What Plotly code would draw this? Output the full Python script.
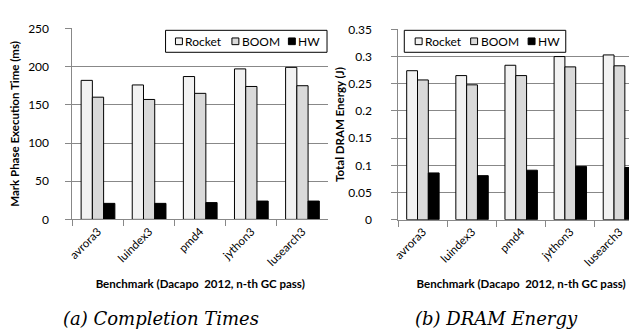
import plotly.graph_objects as go

benchmarks = ["avrora3", "luindex3", "pmd4", "jython3", "lusearch3"]
series_names = ["Rocket", "BOOM", "HW"]

time_rocket = [182, 176, 187, 197, 199]
time_boom = [160, 157, 165, 174, 175]
time_hw = [21, 21, 22, 24, 24]

energy_rocket = [0.274, 0.265, 0.284, 0.300, 0.303]
energy_boom = [0.257, 0.248, 0.265, 0.281, 0.283]
energy_hw = [0.086, 0.081, 0.091, 0.098, 0.096]

fills = ["#f2f2f2", "#d9d9d9", "#000000"]

W, H = 637, 333
FONT = "Lato, Open Sans, sans-serif"

fig = go.Figure()

for i, (name, vals) in enumerate(zip(series_names, [time_rocket, time_boom, time_hw])):
    fig.add_trace(go.Bar(x=benchmarks, y=vals, name=name, xaxis="x", yaxis="y",
                         marker=dict(color=fills[i], line=dict(color="black", width=1)),
                         showlegend=False))
for i, (name, vals) in enumerate(zip(series_names, [energy_rocket, energy_boom, energy_hw])):
    fig.add_trace(go.Bar(x=benchmarks, y=vals, name=name, xaxis="x2", yaxis="y2",
                         marker=dict(color=fills[i], line=dict(color="black", width=1)),
                         showlegend=False))

def px_x(p):
    return p / W

def px_y(p):
    return (H - p) / H

grid = "#888888"
axis_common = dict(showline=True, linecolor=grid, linewidth=1, ticks="outside",
                   tickcolor=grid, ticklen=6, tickfont=dict(family=FONT, size=12, color="black"))

xcommon = dict(axis_common, tickson="boundaries", tickangle=-45, showgrid=False,
               tickfont=dict(family=FONT, size=11.5, color="black"),
               title=dict(text="<b>Benchmark (Dacapo  2012, n-th GC pass)</b>",
                          font=dict(family=FONT, size=11.5, color="black"), standoff=12))

# compact Excel-style legends
shapes = []
annotations = []

def add_legend(box, items):
    x0, y0, x1, y1 = box
    shapes.append(dict(type="rect", xref="paper", yref="paper",
                       x0=px_x(x0), x1=px_x(x1), y0=px_y(y1), y1=px_y(y0),
                       line=dict(color="black", width=1), fillcolor="white", layer="above"))
    yc = (y0 + y1) / 2
    for (sx, tx, label, color) in items:
        shapes.append(dict(type="rect", xref="paper", yref="paper",
                           x0=px_x(sx), x1=px_x(sx + 7), y0=px_y(yc + 3.5), y1=px_y(yc - 3.5),
                           line=dict(color="black", width=1), fillcolor=color, layer="above"))
        annotations.append(dict(text=label, x=px_x(tx), y=px_y(yc), xref="paper", yref="paper",
                                showarrow=False, xanchor="left", yanchor="middle",
                                font=dict(family=FONT, size=12, color="black")))

add_legend((153, 15, 316, 38),
           [(163, 171, series_names[0], fills[0]),
            (220, 228, series_names[1], fills[1]),
            (277, 285, series_names[2], fills[2])])
add_legend((394, 15, 557, 38),
           [(405, 413, series_names[0], fills[0]),
            (461, 469, series_names[1], fills[1]),
            (519, 527, series_names[2], fills[2])])

annotations += [
    dict(text="<i>(a) Completion Times</i>", x=px_x(148), y=px_y(317), xref="paper", yref="paper",
         showarrow=False, xanchor="center", yanchor="middle",
         font=dict(family="DejaVu Serif", size=18, color="black")),
    dict(text="<i>(b) DRAM Energy</i>", x=px_x(487), y=px_y(317), xref="paper", yref="paper",
         showarrow=False, xanchor="center", yanchor="middle",
         font=dict(family="DejaVu Serif", size=18, color="black")),
]

fig.update_layout(
    width=W, height=H,
    margin=dict(l=0, r=0, t=0, b=0),
    paper_bgcolor="white", plot_bgcolor="white",
    barmode="group", bargap=0.34, bargroupgap=0,
    showlegend=False,
    xaxis=dict(xcommon, domain=[px_x(59), px_x(317)], anchor="y"),
    yaxis=dict(axis_common, domain=[px_y(213), px_y(13)], anchor="x", range=[0, 250],
               dtick=50, showgrid=True, gridcolor=grid, gridwidth=1, ticklabelstandoff=14,
               title=dict(text="<b>Mark Phase Execution Time (ms)</b>",
                          font=dict(family=FONT, size=11.5, color="black"), standoff=6)),
    xaxis2=dict(xcommon, domain=[px_x(388), px_x(636)], anchor="y2"),
    yaxis2=dict(axis_common, domain=[px_y(213.3), px_y(14)], anchor="x2", range=[0, 0.35],
                dtick=0.05, showgrid=True, gridcolor=grid, gridwidth=1, tickformat="~g",
                ticklabelstandoff=17,
                title=dict(text="<b>Total DRAM Energy (J)</b>",
                           font=dict(family=FONT, size=11.5, color="black"), standoff=1)),
    shapes=shapes,
    annotations=annotations,
)

fig.write_html("out.html")
